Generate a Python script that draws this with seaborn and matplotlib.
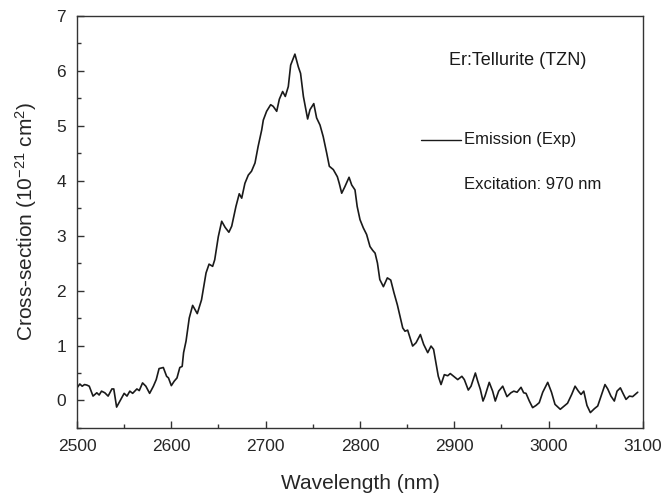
import matplotlib
matplotlib.use("Agg")
import matplotlib.pyplot as plt
from matplotlib.ticker import MultipleLocator
import seaborn as sns
import pandas as pd

# Measured emission cross-section of Er-doped tellurite glass
wavelength_nm = [
    2500, 2503, 2505.5, 2508, 2510.5, 2513, 2517, 2521, 2523.5, 2526, 2529.5, 2533,
    2537, 2539, 2542, 2545.5, 2550, 2553, 2556, 2559, 2563.5, 2566, 2569.5, 2573,
    2577, 2581, 2584, 2587, 2591.5, 2595, 2597, 2600, 2603, 2606, 2609, 2611.5,
    2613, 2615.6, 2619, 2622.6, 2627.5, 2632, 2636.8, 2640, 2643.8, 2646, 2649.8,
    2653.4, 2657, 2661, 2664, 2668.5, 2672, 2674.6, 2678, 2681.6, 2685, 2688.7,
    2692, 2695.8, 2697.5, 2701, 2705.3, 2708, 2711.7, 2714.5, 2718, 2720.8, 2724,
    2726.5, 2731, 2734.6, 2737, 2740, 2744.5, 2747, 2751, 2754, 2757.6, 2761,
    2764.7, 2767.5, 2771.7, 2776, 2778, 2780.6, 2784, 2788.4, 2791.2, 2794.7, 2797,
    2800, 2803.5, 2807, 2810.6, 2813.5, 2816, 2818.5, 2821, 2824.8, 2829, 2832.6,
    2836, 2839.6, 2842.4, 2845.3, 2847.7, 2850.5, 2855.8, 2859.4, 2864, 2867.5,
    2871.8, 2875.3, 2878, 2880.6, 2883, 2885.9, 2889.4, 2893, 2895.7, 2899.3,
    2903.6, 2908, 2910.6, 2914.8, 2917.7, 2922.3, 2924.8, 2927.6, 2930.4, 2932.5,
    2937, 2940.6, 2943.4, 2947, 2951.3, 2955.8, 2960, 2963, 2966.5, 2970.7, 2973.5,
    2976, 2979.5, 2983, 2986.6, 2990, 2993.7, 2999, 3003, 3006.7, 3012.3, 3016.5,
    3020, 3024.4, 3028, 3031.5, 3034.3, 3037.2, 3040.6, 3044.2, 3048.4, 3052,
    3055.5, 3059.7, 3062.6, 3066, 3069.6, 3072.5, 3076, 3078.5, 3082, 3085.6, 3089,
    3094.4,
]
cross_section = [
    0.23, 0.30, 0.26, 0.29, 0.28, 0.26, 0.08, 0.14, 0.10, 0.17, 0.14, 0.08,
    0.21, 0.21, -0.12, -0.01, 0.13, 0.08, 0.17, 0.13, 0.21, 0.18, 0.32, 0.26,
    0.13, 0.26, 0.38, 0.58, 0.60, 0.44, 0.41, 0.27, 0.35, 0.41, 0.60, 0.62,
    0.87, 1.08, 1.50, 1.73, 1.58, 1.83, 2.32, 2.48, 2.44, 2.56, 2.98,
    3.26, 3.15, 3.06, 3.17, 3.53, 3.76, 3.68, 3.95, 4.10, 4.17, 4.32,
    4.62, 4.92, 5.10, 5.26, 5.38, 5.35, 5.26, 5.48, 5.62, 5.53, 5.71,
    6.10, 6.30, 6.07, 5.95, 5.53, 5.12, 5.29, 5.40, 5.14, 5.01, 4.80,
    4.50, 4.26, 4.20, 4.07, 3.95, 3.77, 3.89, 4.06, 3.92, 3.83, 3.53,
    3.29, 3.14, 3.02, 2.80, 2.73, 2.68, 2.50, 2.20, 2.07, 2.23, 2.19,
    1.96, 1.74, 1.53, 1.32, 1.26, 1.28, 0.99, 1.05, 1.20, 1.02,
    0.87, 0.99, 0.93, 0.68, 0.44, 0.29, 0.47, 0.45, 0.49, 0.44,
    0.38, 0.44, 0.38, 0.19, 0.26, 0.50, 0.35, 0.20, -0.01, 0.08,
    0.33, 0.17, -0.01, 0.17, 0.26, 0.07, 0.14, 0.17, 0.15, 0.24, 0.14,
    0.13, -0.01, -0.13, -0.09, -0.04, 0.15, 0.33, 0.15, -0.07, -0.16, -0.10,
    -0.05, 0.11, 0.26, 0.17, 0.11, 0.17, -0.09, -0.22, -0.15, -0.10,
    0.08, 0.29, 0.21, 0.08, -0.01, 0.17, 0.23, 0.14, 0.02, 0.08, 0.07,
    0.15,
]

x_ticks = [2500, 2600, 2700, 2800, 2900, 3000, 3100]
y_ticks = [0, 1, 2, 3, 4, 5, 6, 7]

sample_label = "Er:Tellurite (TZN)"
series_label = "Emission (Exp)"
excitation_label = "Excitation: 970 nm"

df = pd.DataFrame({"wavelength": wavelength_nm, "sigma": cross_section})

sns.set_style("ticks")
plt.rcParams["font.family"] = ["Liberation Sans", "DejaVu Sans"]
plt.rcParams["mathtext.fontset"] = "custom"
plt.rcParams["mathtext.rm"] = "Liberation Sans"
plt.rcParams["mathtext.it"] = "Liberation Sans"

fig = plt.figure(figsize=(6.62, 4.98), dpi=100)
ax = fig.add_axes([0.1163, 0.1406, 0.855, 0.828])

sns.lineplot(data=df, x="wavelength", y="sigma", ax=ax, sort=False,
             color="#1a1a1a", linewidth=1.2, estimator=None)

ax.set_xlim(2500, 3100)
ax.set_ylim(-0.5, 7)
ax.set_xticks(x_ticks)
ax.set_yticks(y_ticks)
ax.xaxis.set_minor_locator(MultipleLocator(50))
ax.yaxis.set_minor_locator(MultipleLocator(0.5))
ax.tick_params(which="both", direction="in", top=False, right=False,
               color="#333333", width=1.0)
ax.tick_params(which="major", length=5, labelsize=12.5, pad=8)
ax.tick_params(which="minor", length=3)
for s in ax.spines.values():
    s.set_color("#333333")
    s.set_linewidth(1.0)

ax.set_xlabel("Wavelength (nm)", fontsize=15, labelpad=14)
ax.set_ylabel("Cross-section (10$^{-21}$ cm$^{2}$)", fontsize=15, labelpad=12)

# Sample and excitation annotations with a hand-placed legend line
ax.text(2894, 6.19, sample_label, fontsize=13, va="center", ha="left", color="#1a1a1a")
ax.plot([2865, 2907], [4.74, 4.74], color="#1a1a1a", linewidth=1.0)
ax.text(2910, 4.74, series_label, fontsize=12, va="center", ha="left", color="#1a1a1a")
ax.text(2910, 3.92, excitation_label, fontsize=12, va="center", ha="left", color="#1a1a1a")

fig.savefig("out.png", dpi=100)
